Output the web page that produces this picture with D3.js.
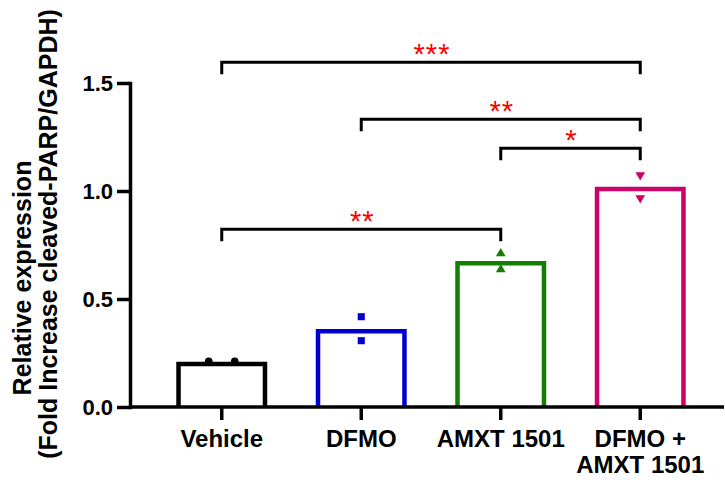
<!DOCTYPE html>
<html>
<head>
<meta charset="utf-8">
<script src="https://cdn.jsdelivr.net/npm/d3@7"></script>
<style>
  html, body { margin: 0; padding: 0; background: #fff; }
  svg { display: block; font-family: "Liberation Sans", Arial, sans-serif; font-weight: bold; }
</style>
</head>
<body>
<div id="chart"></div>
<script>
// groups along the x axis
var groups = ["Vehicle", "DFMO", "AMXT 1501", "DFMO + AMXT 1501"];
var groupLabels = [["Vehicle"], ["DFMO"], ["AMXT 1501"], ["DFMO +", "AMXT 1501"]];
// bar heights (group means)
var means = [0.21, 0.361, 0.676, 1.02];
// individual replicates
var replicates = [
  [0.212, 0.212],
  [0.418, 0.307],
  [0.711, 0.637],
  [1.074, 0.968]
];
var colors = ["#000000", "#0000cc", "#137f00", "#cc0066"];
var markers = ["circle", "square", "triangle", "triangleDown"];
var yTicks = [0, 0.5, 1.0, 1.5];
// significance brackets
var brackets = [
  { from: 0, to: 3, y: 1.596, label: "***" },
  { from: 1, to: 3, y: 1.332, label: "**" },
  { from: 2, to: 3, y: 1.198, label: "*" },
  { from: 0, to: 2, y: 0.823, label: "**" }
];

var width = 725, height = 484;
var svg = d3.select("#chart").append("svg")
    .attr("width", width)
    .attr("height", height);

var x = d3.scaleBand().domain(groups).range([152, 710]).padding(0);
var y = d3.scaleLinear().domain([0, 1.5]).range([407, 83]);
var cx = function (i) { return x(groups[i]) + x.bandwidth() / 2; };
var barW = x.bandwidth() * 0.652;
var sw = 4.5;

// replicate points (drawn under bar outlines)
var symbolFor = {
  circle: d3.symbol().type(d3.symbolCircle).size(46),
  square: d3.symbol().type(d3.symbolSquare).size(50),
  triangle: d3.symbol().type(d3.symbolTriangle).size(40)
};
replicates.forEach(function (vals, gi) {
  // spread replicates that would sit on top of each other
  var overlap = vals.length > 1 && Math.abs(y(vals[0]) - y(vals[1])) < 8;
  vals.forEach(function (v, k) {
    var dx = overlap ? (k === 0 ? -13 : 13) : 0;
    var m = markers[gi];
    var path = m === "triangleDown" ? symbolFor.triangle() : symbolFor[m]();
    svg.append("path")
      .attr("d", path)
      .attr("fill", colors[gi])
      .attr("transform", "translate(" + (cx(gi) + dx) + "," + y(v) + ")" + (m === "triangleDown" ? " rotate(180)" : ""));
  });
});

// bars: open outlines, stroke kept inside the value
means.forEach(function (m, i) {
  var left = cx(i) - barW / 2 + sw / 2;
  var right = cx(i) + barW / 2 - sw / 2;
  var top = y(m) + sw / 2;
  svg.append("path")
    .attr("d", "M" + left + "," + y(0) + "V" + top + "H" + right + "V" + y(0))
    .attr("fill", "none")
    .attr("stroke", colors[i])
    .attr("stroke-width", sw)
    .attr("stroke-linejoin", "miter");
});

// y axis
var yAxis = svg.append("g")
    .attr("transform", "translate(130,0)")
    .call(d3.axisLeft(y).tickValues(yTicks).tickFormat(d3.format(".1f")).tickSize(13).tickSizeOuter(0).tickPadding(4));
yAxis.select(".domain").attr("stroke", "#000").attr("stroke-width", 3.5).attr("stroke-linecap", "square");
yAxis.selectAll(".tick line").attr("stroke", "#000").attr("stroke-width", 3.5);
yAxis.selectAll(".tick text")
    .attr("fill", "#000")
    .style("font-size", "22px")
    .style("font-weight", "bold")
    .style("font-family", "'Liberation Sans', Arial, sans-serif");

// x axis
var xAxis = svg.append("g")
    .attr("transform", "translate(0," + y(0) + ")")
    .call(d3.axisBottom(x).tickSize(13).tickSizeOuter(0).tickFormat(""));
xAxis.select(".domain").remove();
xAxis.selectAll(".tick line").attr("stroke", "#000").attr("stroke-width", 3.5);
svg.append("line")
    .attr("x1", 130).attr("x2", 724)
    .attr("y1", y(0)).attr("y2", y(0))
    .attr("stroke", "#000").attr("stroke-width", 3.5);

groupLabels.forEach(function (lines, i) {
  var t = svg.append("text")
      .attr("x", cx(i))
      .attr("y", 447)
      .attr("text-anchor", "middle")
      .style("font-size", "24px")
      .attr("fill", "#000");
  lines.forEach(function (ln, k) {
    t.append("tspan").attr("x", cx(i)).attr("dy", k === 0 ? 0 : 26).text(ln);
  });
});

// y axis title
var yt = svg.append("text")
    .attr("transform", "rotate(-90)")
    .attr("text-anchor", "middle")
    .style("font-size", "25px")
    .attr("fill", "#000");
yt.append("tspan").attr("x", -278).attr("y", 31).text("Relative expression");
yt.append("tspan").attr("x", -234).attr("y", 57).text("(Fold Increase cleaved-PARP/GAPDH)");

// significance brackets
var drop = 12;
brackets.forEach(function (b) {
  var x1 = cx(b.from), x2 = cx(b.to), yy = y(b.y);
  svg.append("path")
    .attr("d", "M" + x1 + "," + (yy + drop) + "V" + yy + "H" + x2 + "V" + (yy + drop))
    .attr("fill", "none")
    .attr("stroke", "#000")
    .attr("stroke-width", 3)
    .attr("stroke-linejoin", "miter");
  svg.append("text")
    .attr("x", (x1 + x2) / 2 + 1)
    .attr("y", yy + 2)
    .attr("text-anchor", "middle")
    .style("font-size", "29px")
    .style("font-weight", "normal")
    .style("letter-spacing", "1px")
    .attr("fill", "#ff0000")
    .text(b.label);
});
</script>
</body>
</html>
